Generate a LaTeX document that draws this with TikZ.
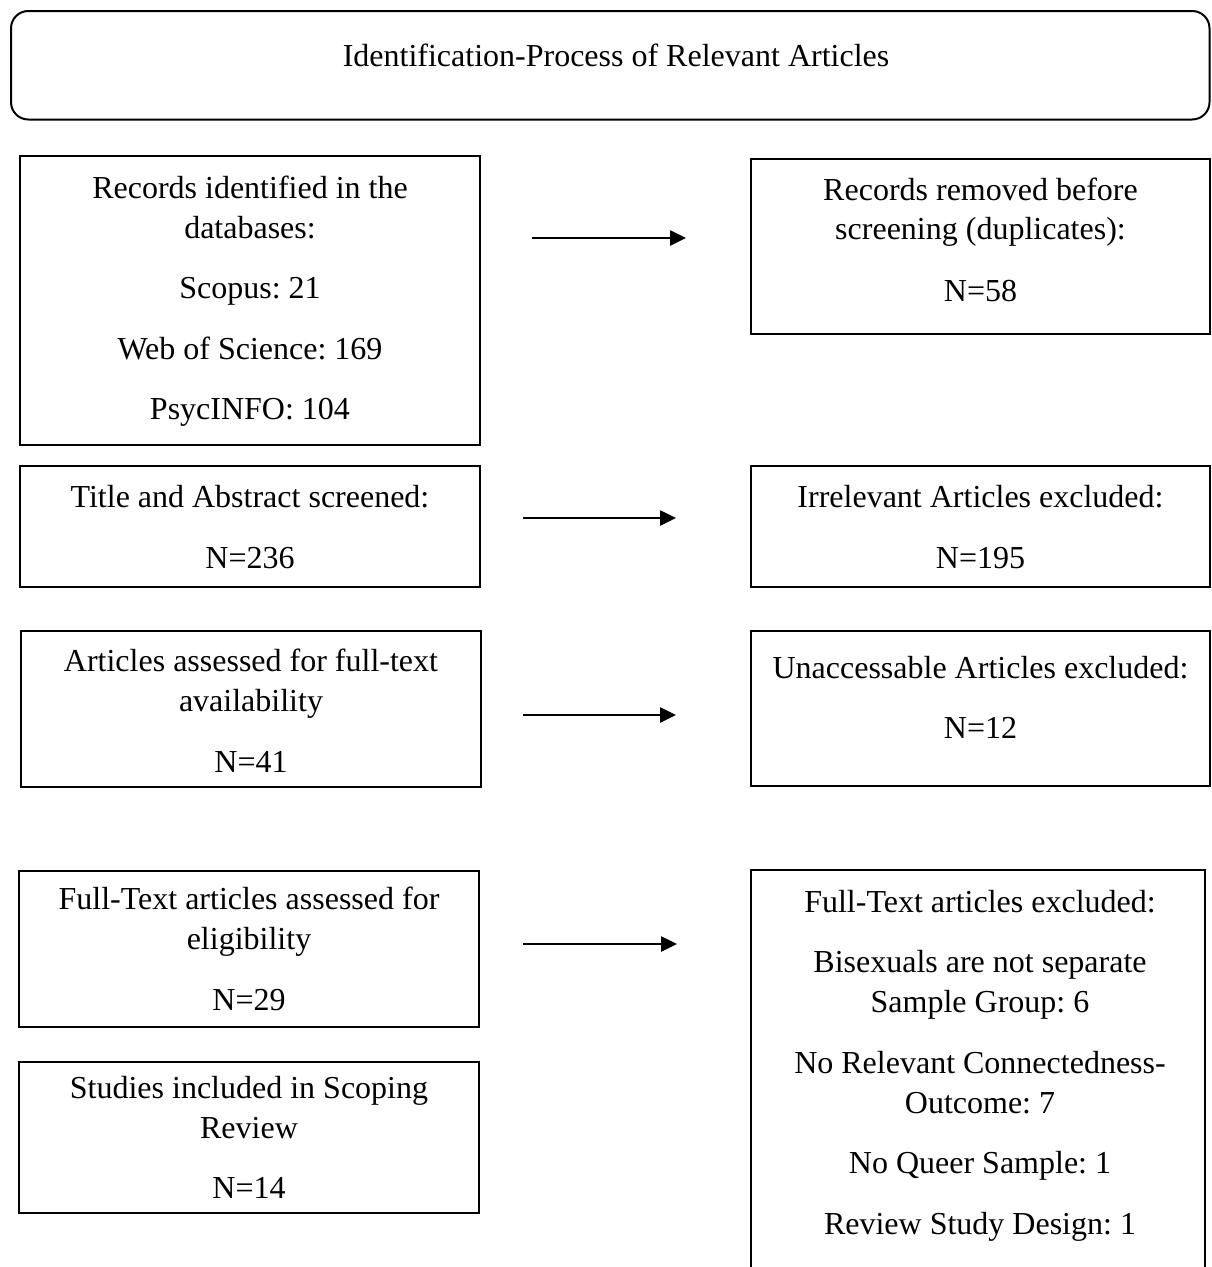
\documentclass[tikz,border=0pt]{standalone}
\usepackage{fontspec}
\setmainfont{Liberation Serif}
\usetikzlibrary{arrows.meta,fit}
\frenchspacing
\begin{document}
\begin{tikzpicture}[x=0.75pt,y=-0.75pt,
  box/.style={draw=black, line width=1.5pt, inner sep=0pt},
  ln/.style={font=\fontsize{24pt}{30pt}\selectfont\frenchspacing, anchor=base, inner sep=0pt, text=black},
  arr/.style={-{Triangle[length=12pt,width=11.5pt]}, line width=1.1pt, black}]
\useasboundingbox (0,0) rectangle (1211,1267);
\fill[white] (0,0) rectangle (1211,1267);
\clip (0,0) rectangle (1211,1267);

% title
\node[box, rounded corners=13pt, fit={(11,11) (1209.5,119.5)}] (title) {};
\node[ln] (tT) at (616,66) {Identification-Process of Relevant Articles};

% row 1
\node[box, fit={(20,156) (480,445)}] (A) {};
\node[ln] (tA1) at (250,198) {Records identified in the};
\node[ln] (tA2) at (250,238) {databases:};
\node[ln] (tA3) at (250,298) {Scopus: 21};
\node[ln] (tA4) at (250,359) {Web of Science: 169};
\node[ln] (tA5) at (250,419) {PsycINFO: 104};

\node[box, fit={(751,159) (1210,334)}] (B) {};
\node[ln] (tB1) at (980.5,200) {Records removed before};
\node[ln] (tB2) at (980.5,239) {screening (duplicates):};
\node[ln] (tB3) at (980.5,301) {N=58};

% row 2
\node[box, fit={(20,466) (480,587)}] (C) {};
\node[ln] (tC1) at (250,507) {Title and Abstract screened:};
\node[ln] (tC2) at (250,568) {N=236};

\node[box, fit={(751,466) (1210,587)}] (D) {};
\node[ln] (tD1) at (980.5,507) {Irrelevant Articles excluded:};
\node[ln] (tD2) at (980.5,568) {N=195};

% row 3
\node[box, fit={(21,631) (481,787)}] (E) {};
\node[ln] (tE1) at (251,671) {Articles assessed for full-text};
\node[ln] (tE2) at (251,711) {availability};
\node[ln] (tE3) at (251,772) {N=41};

\node[box, fit={(751,631) (1210,786)}] (F) {};
\node[ln] (tF1) at (980.5,678) {Unaccessable Articles excluded:};
\node[ln] (tF2) at (980.5,738) {N=12};

% row 4
\node[box, fit={(19,871) (479,1027)}] (G) {};
\node[ln] (tG1) at (249,909) {Full-Text articles assessed for};
\node[ln] (tG2) at (249,949) {eligibility};
\node[ln] (tG3) at (249,1010) {N=29};

\node[box, fit={(19,1062) (479,1213)}] (I) {};
\node[ln] (tI1) at (249,1098) {Studies included in Scoping};
\node[ln] (tI2) at (249,1138) {Review};
\node[ln] (tI3) at (249,1198) {N=14};

\node[box, fit={(751,870) (1205,1280)}] (H) {};
\node[ln] (tH1) at (980,912) {Full-Text articles excluded:};
\node[ln] (tH2) at (980,972) {Bisexuals are not separate};
\node[ln] (tH3) at (980,1012) {Sample Group: 6};
\node[ln] (tH4) at (980,1073) {No Relevant Connectedness-};
\node[ln] (tH5) at (980,1113) {Outcome: 7};
\node[ln] (tH6) at (980,1173) {No Queer Sample: 1};
\node[ln] (tH7) at (980,1234) {Review Study Design: 1};

% arrows
\coordinate (a1s) at (532,238);  \coordinate (a1e) at (686,238);
\coordinate (a2s) at (523,518);  \coordinate (a2e) at (676,518);
\coordinate (a3s) at (523,715);  \coordinate (a3e) at (676,715);
\coordinate (a4s) at (523,944);  \coordinate (a4e) at (677,944);
\draw[arr] (a1s) -- (a1e);
\draw[arr] (a2s) -- (a2e);
\draw[arr] (a3s) -- (a3e);
\draw[arr] (a4s) -- (a4e);
\end{tikzpicture}
\end{document}
